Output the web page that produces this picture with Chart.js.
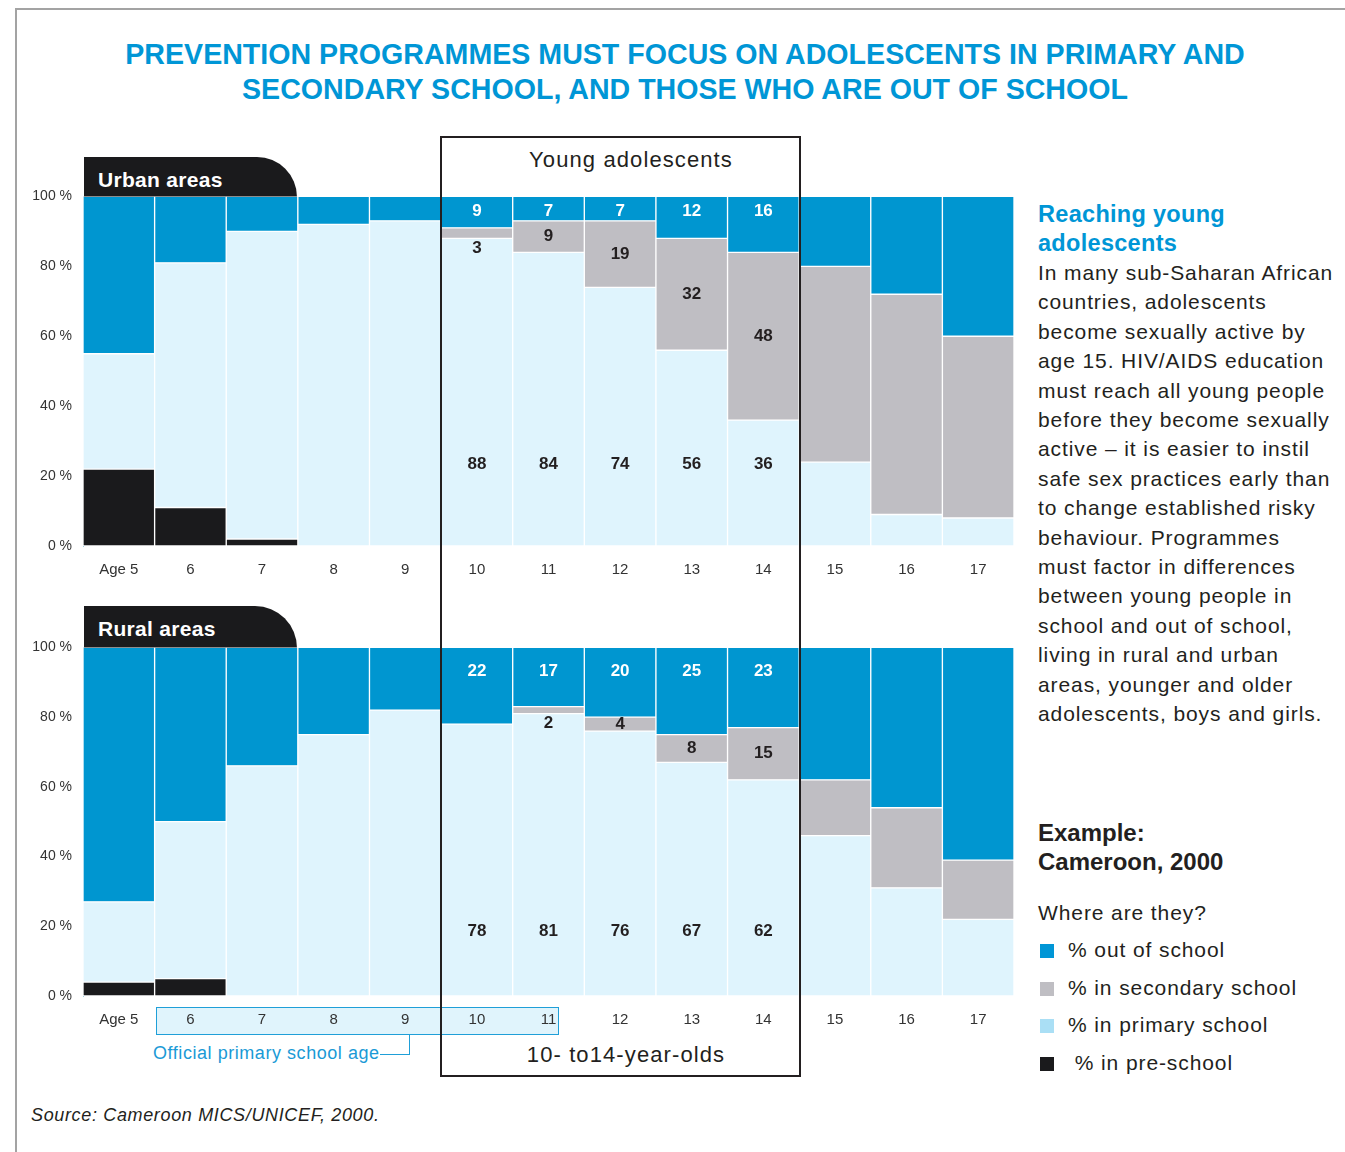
<!DOCTYPE html>
<html>
<head>
<meta charset="utf-8">
<script src="https://cdn.jsdelivr.net/npm/chart.js@4.4.1/dist/chart.umd.min.js"></script>
<style>
  body { margin: 0; background: #fff; font-family: "Liberation Sans", Arial, sans-serif; color: #231f20; }
  #page { position: relative; width: 1345px; height: 1152px; overflow: hidden; }
  .abs { position: absolute; }
  .frame { left: 15px; top: 8px; width: 1340px; height: 1200px; border-left: 2px solid #a3a3a3; border-top: 2px solid #a3a3a3; }
  .title { left: 15px; width: 1340px; top: 37px; text-align: center; color: #0096d6; font-weight: bold; font-size: 28.6px; line-height: 35px; }
  .tab { left: 84px; width: 213px; background: #1a1a1c; border-top-right-radius: 42px; color: #fff; font-weight: bold; font-size: 21px; letter-spacing: 0.3px; padding-left: 14px; box-sizing: border-box; }
  .young { left: 440px; top: 136px; width: 357px; height: 937px; border: 2px solid #231f20; pointer-events: none; z-index: 5; }
  .boxtxt { font-size: 22px; letter-spacing: 1.1px; text-align: center; width: 400px; white-space: nowrap; }
  .side { left: 1038px; white-space: nowrap; }
  .side h3 { margin: 0; color: #0096d6; font-size: 23.5px; letter-spacing: 0.3px; line-height: 29px; }
  .side p { margin: 0; font-size: 21px; letter-spacing: 0.9px; line-height: 29.4px; }
  .side h4 { margin: 0; font-size: 24px; line-height: 29px; }
  .leg { font-size: 21px; letter-spacing: 0.9px; height: 37.5px; line-height: 24px; }
  .leg span.sq { display: inline-block; width: 14px; height: 14px; margin: 0 14px 0 2px; vertical-align: -1px; }
  canvas { position: absolute; left: 0; z-index: 2; }
</style>
</head>
<body>
<div id="page">
  <div class="abs frame"></div>
  <div class="abs title">PREVENTION PROGRAMMES MUST FOCUS ON ADOLESCENTS IN PRIMARY AND<br>SECONDARY SCHOOL, AND THOSE WHO ARE OUT OF SCHOOL</div>

  <div class="abs tab" style="top:157px;height:40px;line-height:45px;">Urban areas</div>
  <div class="abs tab" style="top:606px;height:42px;line-height:45px;">Rural areas</div>

  <div class="abs young"></div>
  <div class="abs boxtxt" style="top:147px;left:431px;">Young adolescents</div>
  <div class="abs boxtxt" style="top:1042px;left:426px;">10- to14-year-olds</div>

  <!-- official primary school age bracket -->
  <div class="abs" style="left:156px;top:1007px;width:401px;height:26px;background:#e0f4fc;border:1.5px solid #1f9fd8;z-index:1;"></div>
  <div class="abs" style="left:153px;top:1043px;color:#1a9ad6;font-size:18px;letter-spacing:0.55px;">Official primary school age</div>
  <div class="abs" style="left:380px;top:1035px;width:29px;height:19px;border-right:1.5px solid #1f9fd8;border-bottom:1.5px solid #1f9fd8;"></div>

  <canvas id="urban" width="1016" height="411" style="top:177px;"></canvas>
  <canvas id="rural" width="1016" height="410" style="top:628px;"></canvas>

  <div class="abs side" style="top:200px;">
    <h3>Reaching young<br>adolescents</h3>
    <p>In many sub-Saharan African<br>countries, adolescents<br>become sexually active by<br>age 15. HIV/AIDS education<br>must reach all young people<br>before they become sexually<br>active – it is easier to instil<br>safe sex practices early than<br>to change established risky<br>behaviour. Programmes<br>must factor in differences<br>between young people in<br>school and out of school,<br>living in rural and urban<br>areas, younger and older<br>adolescents, boys and girls.</p>
  </div>
  <div class="abs side" style="top:818px;">
    <h4>Example:<br>Cameroon, 2000</h4>
  </div>
  <div class="abs side" style="top:901px;font-size:21px;letter-spacing:0.9px;">Where are they?</div>
  <div class="abs side" id="legend" style="top:938px;"></div>

  <div class="abs" style="left:31px;top:1105px;font-size:18px;letter-spacing:0.65px;font-style:italic;">Source: Cameroon MICS/UNICEF, 2000.</div>
</div>

<script>
// ages on the x axis
const ages = ['Age 5', '6', '7', '8', '9', '10', '11', '12', '13', '14', '15', '16', '17'];
const labelledAges = ['10', '11', '12', '13', '14'];
const yTicks = [0, 20, 40, 60, 80, 100];

// series names, bottom of the stack first
const seriesNames = ['% in pre-school', '% in primary school', '% in secondary school', '% out of school'];
const seriesColors = ['#1a1a1c', '#dff4fd', '#bfbec3', '#0096d0'];
const legendColors = ['#1a1a1c', '#aadff5', '#bfbec3', '#0096d6'];

// urban areas
const urbanPre       = [22, 11, 2, 0, 0, 0, 0, 0, 0, 0, 0, 0, 0];
const urbanPrimary   = [33, 70, 88, 92, 93, 88, 84, 74, 56, 36, 24, 9, 8];
const urbanSecondary = [0, 0, 0, 0, 0, 3, 9, 19, 32, 48, 56, 63, 52];
const urbanOut       = [45, 19, 10, 8, 7, 9, 7, 7, 12, 16, 20, 28, 40];

// rural areas
const ruralPre       = [4, 5, 0, 0, 0, 0, 0, 0, 0, 0, 0, 0, 0];
const ruralPrimary   = [23, 45, 66, 75, 82, 78, 81, 76, 67, 62, 46, 31, 22];
const ruralSecondary = [0, 0, 0, 0, 0, 0, 2, 4, 8, 15, 16, 23, 17];
const ruralOut       = [73, 50, 34, 25, 18, 22, 17, 20, 25, 23, 38, 46, 61];

const numFont = 'bold 17px "Liberation Sans", Arial, sans-serif';
const tickFont = { family: '"Liberation Sans", Arial, sans-serif', size: 14 };

// legend on the right, top of the stack first
const legendEl = document.getElementById('legend');
for (let i = seriesNames.length - 1; i >= 0; i--) {
    const row = document.createElement('div');
    row.className = 'leg';
    row.innerHTML = '<span class="sq" style="background:' + legendColors[i] + '"></span>' +
        (i === 0 ? '&nbsp;' : '') + seriesNames[i];
    legendEl.appendChild(row);
}

// numbers written inside the bars for ages 10-14
const valueLabels = {
    id: 'valueLabels',
    afterDatasetsDraw(chart, args, opts) {
        const ctx = chart.ctx;
        const y = chart.scales.y;
        ctx.save();
        ctx.font = numFont;
        ctx.textAlign = 'center';
        ctx.textBaseline = 'middle';
        chart.data.datasets.forEach((ds, i) => {
            if (i === 0) return;
            const meta = chart.getDatasetMeta(i);
            meta.data.forEach((bar, j) => {
                if (!labelledAges.includes(chart.data.labels[j])) return;
                const v = ds.data[j];
                if (!v) return;
                let ly;
                if (i === 3) {
                    ly = bar.y + opts.outOffset;
                    ctx.fillStyle = '#ffffff';
                } else if (i === 1) {
                    ly = y.getPixelForValue(opts.primaryAt);
                    ctx.fillStyle = '#231f20';
                } else {
                    // thin grey slices get their number just below them
                    const h = bar.base - bar.y;
                    ly = h < 12 ? bar.base + 10 : (bar.y + bar.base) / 2;
                    ctx.fillStyle = '#231f20';
                }
                ctx.fillText(String(v), bar.x, ly);
            });
        });
        ctx.restore();
    }
};

function makeChart(id, pre, primary, secondary, out, outOffset, primaryAt) {
    const data = [pre, primary, secondary, out];
    new Chart(document.getElementById(id), {
        type: 'bar',
        data: {
            labels: ages,
            datasets: seriesNames.map((name, i) => ({
                label: name,
                data: data[i],
                backgroundColor: seriesColors[i],
                borderColor: '#ffffff',
                borderWidth: 1,
                borderSkipped: false,
                barPercentage: 1,
                categoryPercentage: 1,
            })),
        },
        options: {
            responsive: false,
            animation: false,
            devicePixelRatio: 1,
            layout: { padding: { top: 0, right: 2, left: 0, bottom: 0 } },
            plugins: {
                legend: { display: false },
                tooltip: { enabled: false },
                valueLabels: { outOffset: outOffset, primaryAt: primaryAt },
            },
            scales: {
                x: {
                    stacked: true,
                    grid: { display: false, drawTicks: false },
                    border: { display: false },
                    ticks: { color: '#333', font: { family: tickFont.family, size: 15 }, padding: 15, maxRotation: 0, autoSkip: false },
                    afterFit: s => { s.height = 42; },
                },
                y: {
                    stacked: true,
                    min: 0,
                    max: 100,
                    grid: { display: false, drawTicks: false },
                    border: { display: true, color: '#9fd3ea', width: 1 },
                    afterBuildTicks: s => { s.ticks = yTicks.map(v => ({ value: v })); },
                    ticks: { color: '#333', font: tickFont, padding: 11, callback: v => v + ' %' },
                    afterFit: s => { s.width = 83; },
                },
            },
        },
        plugins: [valueLabels],
    });
}

makeChart('urban', urbanPre, urbanPrimary, urbanSecondary, urbanOut, 15, 23.5);
makeChart('rural', ruralPre, ruralPrimary, ruralSecondary, ruralOut, 24, 18.5);
</script>
</body>
</html>
